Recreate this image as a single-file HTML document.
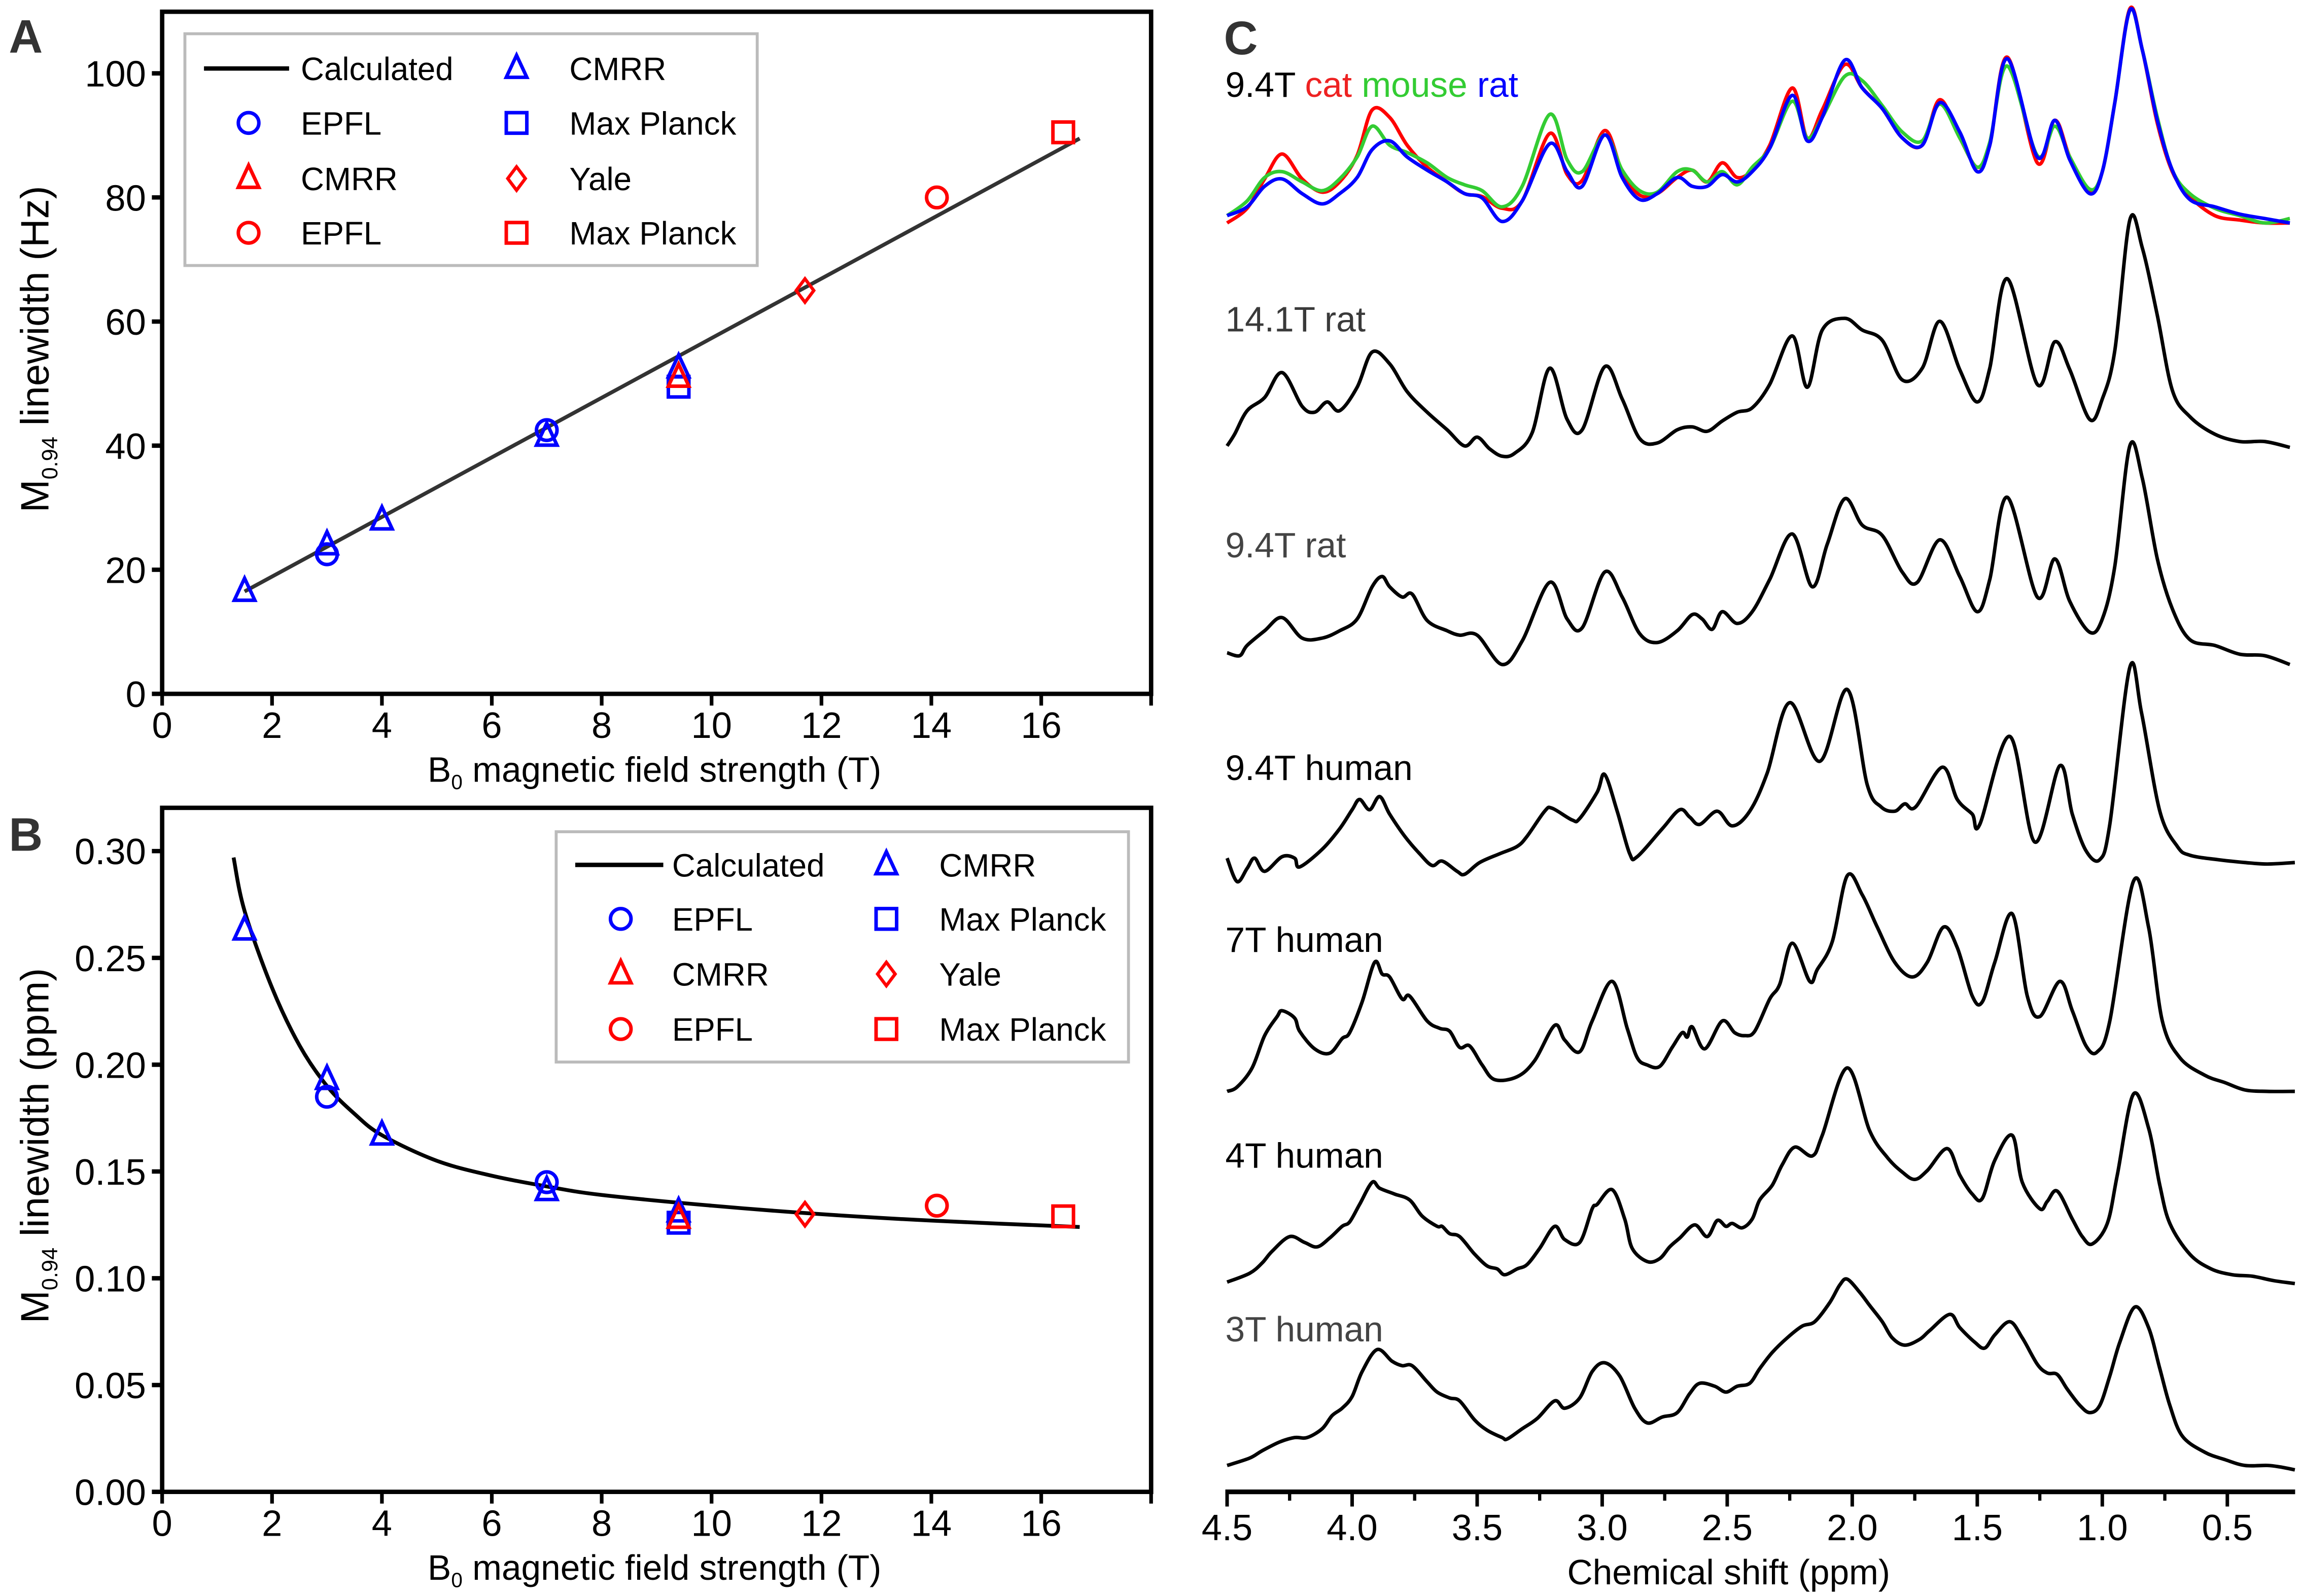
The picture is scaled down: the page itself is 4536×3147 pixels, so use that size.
<!DOCTYPE html>
<html><head><meta charset="utf-8"><style>
html,body{margin:0;padding:0;background:#fff}
svg{display:block}
text{font-family:"Liberation Sans",sans-serif}
.tk{font-family:"Liberation Sans Narrow","Liberation Sans",sans-serif;font-size:25px;fill:#000}
.lg{font-size:22px;fill:#000}
.pl{font-size:32px;font-weight:bold;fill:#333}
.sl{font-family:"Liberation Sans Narrow","Liberation Sans",sans-serif;font-size:24px}
</style></head><body>
<svg id="fig" width="4536" height="3147" viewBox="0 0 1568 1088" preserveAspectRatio="none" xmlns="http://www.w3.org/2000/svg">
<g id="gA"></g>
<g id="gB"></g>
<g id="gC"></g>
</svg>
<script>
// ---------- Panel A data ----------
const aCalcX=[1.5,16.7];
const aCalcY=[16.5,89.5];
const aCmrrBlueX=[1.5,3,4,7,9.4];
const aCmrrBlueY=[16.5,24,28,41.5,52.5];
const aEpflBlueX=[3,7];
const aEpflBlueY=[22.5,42.5];
const aMpBlueX=[9.4];
const aMpBlueY=[49.5];
const aCmrrRedX=[9.4];
const aCmrrRedY=[51];
const aYaleX=[11.7];
const aYaleY=[65];
const aEpflRedX=[14.1];
const aEpflRedY=[80];
const aMpRedX=[16.4];
const aMpRedY=[90.5];
const aYTicks=[0,20,40,60,80,100];
const xTicksB0=[0,2,4,6,8,10,12,14,16];
// ---------- Panel B data ----------
const bCalcX=[1.3,1.5,2,2.5,3,3.5,4,5,6,7,8,10,12,14,16.7];
const bCalcY=[0.297,0.272,0.236,0.209,0.19,0.177,0.167,0.155,0.148,0.143,0.139,0.134,0.130,0.127,0.124];
const bCmrrBlueX=[1.5,3,4,7,9.4];
const bCmrrBlueY=[0.263,0.193,0.167,0.141,0.131];
const bEpflBlueX=[3,7];
const bEpflBlueY=[0.185,0.145];
const bMpBlueX=[9.4];
const bMpBlueY=[0.126];
const bCmrrRedX=[9.4];
const bCmrrRedY=[0.128];
const bYaleX=[11.7];
const bYaleY=[0.130];
const bEpflRedX=[14.1];
const bEpflRedY=[0.134];
const bMpRedX=[16.4];
const bMpRedY=[0.129];
const bYTicks=["0.00","0.05","0.10","0.15","0.20","0.25","0.30"];
// ---------- Panel C data ----------
const cTicks=["4.5","4.0","3.5","3.0","2.5","2.0","1.5","1.0","0.5"];
const cLabels=["14.1T rat","9.4T rat","9.4T human","7T human","4T human","3T human"];
const cGridPpm=[4.50,4.42,4.35,4.28,4.20,4.12,4.05,3.98,3.92,3.85,3.78,3.70,3.62,3.55,3.48,3.40,3.32,3.21,3.14,3.08,2.99,2.92,2.85,2.78,2.70,2.64,2.58,2.52,2.46,2.40,2.33,2.24,2.18,2.12,2.03,1.96,1.88,1.80,1.72,1.65,1.57,1.50,1.45,1.38,1.26,1.19,1.13,1.05,1.00,0.95,0.89,0.84,0.78,0.72,0.65,0.55,0.45,0.35,0.25];
const catInt=[8,18,38,55,38,29,36,54,85,80,61,46,36,28,26,18,23,69,41,37,71,43,27,28,39,44,36,49,39,44,61,100,66,85,116,100,86,66,61,92,66,46,61,121,49,78,53,29,43,90,154,126,76,43,26,13,10,8,8];
const mouseInt=[13,23,39,43,36,30,38,53,74,61,56,49,39,34,30,19,33,82,51,43,68,44,30,29,43,44,36,43,34,46,59,91,66,80,108,105,88,70,64,89,66,46,63,115,54,74,53,31,43,90,153,126,80,44,28,18,13,8,11];
const ratInt=[13,19,33,38,28,21,28,39,58,64,53,44,36,28,25,9,23,62,43,33,68,39,24,28,39,33,33,41,36,43,59,95,64,80,119,100,86,66,61,90,70,43,61,120,53,78,51,28,43,90,153,126,78,44,24,19,14,11,8];
const rat141Ppm=[4.50,4.47,4.42,4.35,4.28,4.20,4.15,4.10,4.05,3.98,3.92,3.85,3.78,3.70,3.62,3.55,3.50,3.45,3.40,3.35,3.28,3.21,3.14,3.08,2.99,2.92,2.85,2.78,2.70,2.64,2.58,2.52,2.46,2.40,2.33,2.24,2.18,2.12,2.03,1.96,1.88,1.80,1.72,1.65,1.57,1.50,1.45,1.38,1.26,1.19,1.13,1.05,1.00,0.95,0.89,0.84,0.78,0.72,0.65,0.55,0.45,0.35,0.25];
const rat141Int=[6,14,30,39,56,33,29,36,30,46,70,62,43,29,17,6,12,4,-1,1,15,59,24,17,60,38,11,8,17,19,16,23,29,32,48,81,46,85,93,85,78,51,59,91,58,36,59,120,48,77,58,24,38,71,160,141,95,44,26,14,9,9,5];
const rat94Ppm=[4.50,4.45,4.42,4.35,4.28,4.20,4.12,4.05,3.98,3.92,3.88,3.85,3.80,3.76,3.70,3.62,3.57,3.50,3.40,3.32,3.21,3.14,3.08,2.99,2.92,2.85,2.78,2.70,2.64,2.60,2.56,2.52,2.46,2.40,2.33,2.24,2.16,2.10,2.03,1.96,1.88,1.80,1.74,1.65,1.57,1.50,1.45,1.38,1.26,1.19,1.13,1.05,1.00,0.95,0.89,0.84,0.78,0.72,0.65,0.55,0.45,0.35,0.25];
const rat94Int=[10,8,15,25,34,20,20,25,33,55,62,55,48,50,32,25,22,22,2,18,58,33,27,65,48,23,17,25,36,33,26,38,30,38,60,91,55,84,115,97,90,65,58,87,62,38,60,116,48,74,45,24,33,69,151,129,74,40,19,15,9,8,2];
const hum94Ppm=[4.50,4.46,4.42,4.39,4.35,4.28,4.23,4.21,4.12,4.05,4.00,3.97,3.93,3.89,3.85,3.79,3.73,3.68,3.64,3.58,3.55,3.49,3.41,3.34,3.30,3.23,3.20,3.12,3.09,3.02,2.99,2.94,2.89,2.86,2.76,2.69,2.65,2.61,2.54,2.48,2.41,2.34,2.25,2.13,2.02,1.94,1.885,1.83,1.79,1.746,1.64,1.58,1.52,1.49,1.37,1.27,1.17,1.12,1.065,1.01,0.97,0.89,0.843,0.77,0.70,0.65,0.54,0.43,0.34,0.23];
const hum94Int=[15,-1,8,15,6,16,15,9,21,35,48,55,48,57,45,30,18,10,13,6,4,12,18,23,30,47,49,41,42,60,72,47,18,16,35,48,43,38,47,37,47,73,121,81,130,65,50,47,52,50,77,55,45,38,98,26,78,45,20,14,38,145,114,47,23,17,14,12,11,12];
const hum7Ppm=[4.50,4.46,4.40,4.35,4.30,4.28,4.23,4.21,4.15,4.09,4.04,4.01,3.96,3.91,3.88,3.85,3.80,3.77,3.70,3.65,3.61,3.57,3.53,3.48,3.43,3.34,3.27,3.19,3.15,3.09,3.04,2.96,2.90,2.86,2.82,2.77,2.72,2.68,2.66,2.64,2.59,2.52,2.47,2.43,2.39,2.33,2.29,2.24,2.17,2.14,2.08,2.02,1.96,1.90,1.83,1.76,1.70,1.635,1.58,1.52,1.48,1.43,1.36,1.30,1.25,1.17,1.12,1.065,1.02,0.97,0.876,0.815,0.76,0.69,0.59,0.51,0.43,0.34,0.23];
const hum7Int=[6,9,22,44,57,61,56,47,35,32,42,46,67,94,86,84,69,71,54,49,47,36,37,24,14,16,27,51,41,33,54,81,49,29,24,23,36,46,43,50,35,54,46,44,47,69,79,107,81,89,108,153,140,118,94,84,94,118,104,71,67,94,127,71,57,81,61,37,33,54,149,118,54,29,17,12,7,6,6];
const hum4Ppm=[4.50,4.41,4.36,4.32,4.25,4.19,4.14,4.09,4.04,4.01,3.97,3.92,3.89,3.83,3.77,3.72,3.66,3.64,3.61,3.57,3.51,3.46,3.42,3.39,3.34,3.30,3.25,3.19,3.15,3.09,3.04,3.02,2.96,2.91,2.88,2.82,2.77,2.73,2.69,2.63,2.58,2.54,2.505,2.48,2.44,2.40,2.37,2.32,2.28,2.23,2.16,2.12,2.02,1.93,1.86,1.80,1.75,1.70,1.62,1.57,1.52,1.48,1.43,1.36,1.32,1.25,1.22,1.18,1.12,1.08,1.04,0.98,0.94,0.876,0.815,0.77,0.73,0.65,0.565,0.48,0.40,0.315,0.23];
const hum4Int=[6,12,19,27,37,33,30,36,44,47,59,74,70,66,62,51,44,44,39,37,25,17,15,11,15,18,29,44,35,33,56,59,69,49,29,20,22,30,36,45,37,48,44,46,43,49,62,72,86,98,92,106,152,109,91,81,76,82,97,79,66,63,89,106,74,56,61,68,49,37,32,46,79,134,111,72,46,25,15,11,10,7,5];
const hum3Ppm=[4.50,4.41,4.36,4.29,4.23,4.18,4.12,4.08,4.04,4.00,3.96,3.90,3.84,3.80,3.76,3.70,3.66,3.61,3.57,3.51,3.46,3.40,3.38,3.32,3.26,3.19,3.15,3.09,3.04,2.99,2.93,2.87,2.82,2.76,2.70,2.65,2.61,2.55,2.505,2.46,2.41,2.37,2.32,2.26,2.20,2.15,2.09,2.05,2.02,1.97,1.93,1.88,1.84,1.79,1.73,1.69,1.61,1.57,1.51,1.47,1.43,1.37,1.32,1.26,1.22,1.18,1.14,1.09,1.05,1.01,0.97,0.93,0.87,0.815,0.77,0.73,0.68,0.59,0.51,0.43,0.34,0.29,0.23];
const hum3Int=[6,11,16,22,25,25,31,40,45,53,70,85,77,74,74,63,56,52,50,37,30,25,24,31,38,50,45,52,70,76,67,45,35,39,42,55,62,60,56,60,62,72,83,93,101,104,117,129,133,124,115,104,93,88,92,98,109,100,90,86,95,104,93,75,69,68,58,47,42,47,67,90,114,100,72,47,26,15,10,6,6,5,3];

const NS='http://www.w3.org/2000/svg';
function mk(parent,tag,attrs,txt){const e=document.createElementNS(NS,tag);for(const k in attrs)e.setAttribute(k,attrs[k]);if(txt!==undefined)e.textContent=txt;parent.appendChild(e);return e;}

function marker(g,shape,cx,cy,color){
  let e;
  if(shape==='tri'){e=mk(g,'polygon',{points:`${cx},${cy-9} ${cx-7},${cy+6} ${cx+7},${cy+6}`,fill:'none',stroke:color,'stroke-width':2.4});}
  else if(shape==='circ'){e=mk(g,'circle',{cx:cx,cy:cy,r:7,fill:'none',stroke:color,'stroke-width':2.4});}
  else if(shape==='sq'){e=mk(g,'rect',{x:cx-7,y:cy-7,width:14,height:14,fill:'none',stroke:color,'stroke-width':2.4});}
  else {e=mk(g,'polygon',{points:`${cx},${cy-8} ${cx+6},${cy} ${cx},${cy+8} ${cx-6},${cy}`,fill:'none',stroke:color,'stroke-width':2.2});}
  
  
  return e;
}
function smoothPath(pts){
  let d=`M${pts[0][0]},${pts[0][1]}`;
  for(let i=0;i<pts.length-1;i++){
    const p0=pts[Math.max(0,i-1)],p1=pts[i],p2=pts[i+1],p3=pts[Math.min(pts.length-1,i+2)];
    const c1x=p1[0]+(p2[0]-p0[0])/6,c1y=p1[1]+(p2[1]-p0[1])/6;
    const c2x=p2[0]-(p3[0]-p1[0])/6,c2y=p2[1]-(p3[1]-p1[1])/6;
    d+=` C${c1x.toFixed(2)},${c1y.toFixed(2)} ${c2x.toFixed(2)},${c2y.toFixed(2)} ${p2[0].toFixed(2)},${p2[1].toFixed(2)}`;
  }
  return d;
}
function panel(g,cfg){
  const L=110.5,PU=37.44,R=L+18*PU,T=cfg.top,B=cfg.bottom;
  const xs=v=>L+v*PU;
  const ys=v=>B-v*cfg.ppu;
  const fr=mk(g,'rect',{x:L,y:T,width:R-L,height:B-T,fill:'none',stroke:'#000','stroke-width':3});
  
  cfg.yTicks.forEach(t=>{const v=parseFloat(t);const y=ys(v);
    mk(g,'line',{x1:L-7,x2:L,y1:y,y2:y,stroke:'#000','stroke-width':3});
    const tx=mk(g,'text',{x:L-11,y:y+9,'text-anchor':'end',class:'tk'},t);
    
  });
  xTicksB0.forEach(v=>{const x=xs(v);
    mk(g,'line',{x1:x,x2:x,y1:B,y2:B+8,stroke:'#000','stroke-width':2.5});
    const tx=mk(g,'text',{x:x,y:B+30,'text-anchor':'middle',class:'tk'},String(v));
    
  });
  mk(g,'line',{x1:R,x2:R,y1:B,y2:B+8,stroke:'#000','stroke-width':2.5});
  const xt=mk(g,'text',{x:446,y:B+60,'text-anchor':'middle',class:'sl',fill:'#000'});
  
  xt.innerHTML='B<tspan font-size="14" dy="5">0</tspan><tspan dy="-5"> magnetic field strength (T)</tspan>';
  const yt=mk(g,'text',{transform:`translate(33,${cfg.ytc}) rotate(-90)`,'text-anchor':'middle','font-size':27,fill:'#000'});
  
  yt.innerHTML=`M<tspan font-size="15" dy="6">0.94</tspan><tspan dy="-6"> linewidth (${cfg.unit})</tspan>`;
  const pl=mk(g,'text',{x:6,y:cfg.letterY,class:'pl'},cfg.letter);
  
  const cp=cfg.calcX.map((x,i)=>[xs(x),ys(cfg.calcY[i])]);
  const cl=mk(g,'path',{d:smoothPath(cp),fill:'none',stroke:cfg.calcColor,'stroke-width':2.6});
  
  cfg.series.forEach(s=>{s.x.forEach((x,i)=>marker(g,s.shape,xs(x),ys(s.y[i]),s.color));});
  const lg=cfg.legend;
  const lb=mk(g,'rect',{x:lg.x,y:lg.y,width:lg.w,height:lg.h,fill:'#fff',stroke:'#bbb','stroke-width':2});
  
  const items=[['line','#000','Calculated',0,0],['circ','#00f','EPFL',0,1],['tri','#f00','CMRR',0,2],['circ','#f00','EPFL',0,3],
               ['tri','#00f','CMRR',1,0],['sq','#00f','Max Planck',1,1],['dia','#f00','Yale',1,2],['sq','#f00','Max Planck',1,3]];
  items.forEach(it=>{
    const y=lg.rows[it[4]];
    const mx=it[3]===0?lg.m1:lg.m2, tx=it[3]===0?lg.t1:lg.t2;
    if(it[0]==='line'){const ln=mk(g,'line',{x1:lg.l1,x2:lg.l2,y1:y,y2:y,stroke:'#000','stroke-width':3});}
    else marker(g,it[0],mx,y,it[1]);
    const t=mk(g,'text',{x:tx,y:y+8,class:'lg'},it[2]);
    
  });
}
panel(document.getElementById('gA'),{top:8,bottom:473,ppu:4.23,yTicks:aYTicks.map(String),ytc:238,unit:'Hz',letter:'A',letterY:36,
  calcX:aCalcX,calcY:aCalcY,calcColor:'#333',
  series:[{x:aCmrrBlueX,y:aCmrrBlueY,shape:'tri',color:'#00f'},{x:aEpflBlueX,y:aEpflBlueY,shape:'circ',color:'#00f'},{x:aMpBlueX,y:aMpBlueY,shape:'sq',color:'#00f'},
          {x:aCmrrRedX,y:aCmrrRedY,shape:'tri',color:'#f00'},{x:aYaleX,y:aYaleY,shape:'dia',color:'#f00'},{x:aEpflRedX,y:aEpflRedY,shape:'circ',color:'#f00'},{x:aMpRedX,y:aMpRedY,shape:'sq',color:'#f00'}],
  legend:{x:126,y:23,w:390,h:158,rows:[46.7,83.8,121.7,158.7],l1:139,l2:197,m1:169.4,t1:205,m2:352,t2:388}});
panel(document.getElementById('gB'),{top:550.7,bottom:1017,ppu:1456,yTicks:bYTicks,ytc:781,unit:'ppm',letter:'B',letterY:580,
  calcX:bCalcX,calcY:bCalcY,calcColor:'#000',
  series:[{x:bCmrrBlueX,y:bCmrrBlueY,shape:'tri',color:'#00f'},{x:bEpflBlueX,y:bEpflBlueY,shape:'circ',color:'#00f'},{x:bMpBlueX,y:bMpBlueY,shape:'sq',color:'#00f'},
          {x:bCmrrRedX,y:bCmrrRedY,shape:'tri',color:'#f00'},{x:bYaleX,y:bYaleY,shape:'dia',color:'#f00'},{x:bEpflRedX,y:bEpflRedY,shape:'circ',color:'#f00'},{x:bMpRedX,y:bMpRedY,shape:'sq',color:'#f00'}],
  legend:{x:379,y:567,w:390,h:157,rows:[589.6,626.4,664,701.5],l1:392,l2:452,m1:423,t1:458,m2:604,t2:640}});

(function(){
  const g=document.getElementById('gC');
  const xs=p=>836.2+(4.5-p)*170.4;
  const axY=1017;
  const ax=mk(g,'line',{x1:835,x2:1564,y1:axY,y2:axY,stroke:'#000','stroke-width':3.2});
  
  cTicks.forEach(t=>{const x=xs(parseFloat(t));
    mk(g,'line',{x1:x,x2:x,y1:axY,y2:axY+10,stroke:'#000','stroke-width':2.4});
    const tx=mk(g,'text',{x:x,y:1050,'text-anchor':'middle',class:'tk'},t);
    
  });
  for(let k=0;k<8;k++){const x=xs(4.25-k*0.5);mk(g,'line',{x1:x,x2:x,y1:axY,y2:axY+6,stroke:'#000','stroke-width':2.2});}
  const xt=mk(g,'text',{x:1178,y:1080,'text-anchor':'middle',class:'sl',fill:'#000'},'Chemical shift (ppm)');
  
  const pl=mk(g,'text',{x:834,y:37,class:'pl'},'C');
  
  function trace(ppm,ints,base,color,name){
    const pts=ppm.map((p,i)=>[xs(p),base-ints[i]]);
    const e=mk(g,'path',{d:smoothPath(pts),fill:'none',stroke:color,'stroke-width':2.4,'stroke-linejoin':'round'});
    
    
  }
  trace(cGridPpm,catInt,160,'#ff0000','spectrum-cat');
  trace(cGridPpm,mouseInt,160,'#33cc33','spectrum-mouse');
  trace(cGridPpm,ratInt,160,'#0000ff','spectrum-rat');
  trace(rat141Ppm,rat141Int,310,'#000','spectrum-14t-rat');
  trace(rat94Ppm,rat94Int,455,'#000','spectrum-9t-rat');
  trace(hum94Ppm,hum94Int,600,'#000','spectrum-9t-human');
  trace(hum7Ppm,hum7Int,750,'#000','spectrum-7t-human');
  trace(hum4Ppm,hum4Int,880,'#000','spectrum-4t-human');
  trace(hum3Ppm,hum3Int,1005,'#000','spectrum-3t-human');
  const t1=mk(g,'text',{x:835,y:66,class:'sl'});
  
  t1.innerHTML='<tspan fill="#000">9.4T </tspan><tspan fill="#ee2222">cat </tspan><tspan fill="#33cc33">mouse </tspan><tspan fill="#0000ff">rat</tspan>';
  const ly=[226,380,531.7,649,796,914.5];
  const lc=['#3a3a3a','#444','#000','#000','#000','#444'];
  cLabels.forEach((s,i)=>{const t=mk(g,'text',{x:835,y:ly[i],class:'sl',fill:lc[i]},s);
    });
})();
</script>
</body></html>
